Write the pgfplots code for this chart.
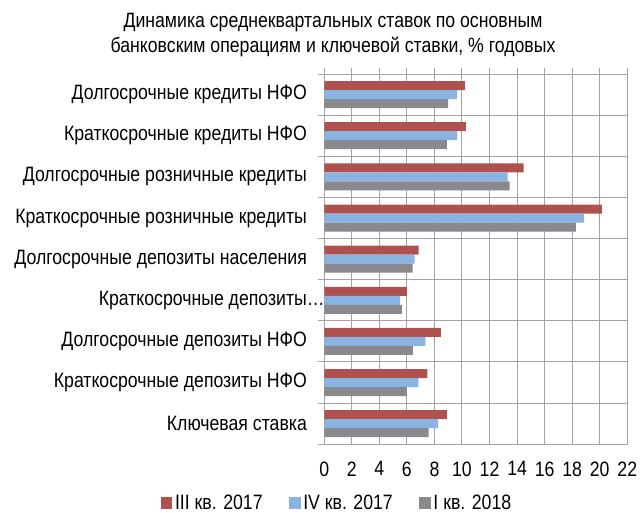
\documentclass[border=0pt]{standalone}
\usepackage{pgfplots}
\pgfplotsset{compat=1.18}
\usepackage{fontspec}
\setmainfont[FakeStretch=0.85]{Liberation Sans}
\definecolor{serA}{RGB}{175,81,79}
\definecolor{serB}{RGB}{137,179,224}
\definecolor{serC}{RGB}{137,137,142}
\definecolor{gridc}{RGB}{163,163,163}

\begin{document}
\begin{tikzpicture}[font=\fontsize{15.6}{18}\selectfont]
\useasboundingbox (0,0) rectangle (480pt,384pt);

\node[align=center, font=\fontsize{15.6}{18.75}\selectfont] at (249.75pt,358.1pt)
  {Динамика среднеквартальных ставок по основным\\банковским операциям и ключевой ставки, \% годовых};

\begin{axis}[
  at={(243.2pt,50.8pt)}, anchor=south west,
  width=227.25pt, height=277.7pt, scale only axis,
  xbar=0pt, bar width=6.75pt,
  xmin=0, xmax=22, xtick={0,2,...,22},
  ymin=-0.5, ymax=8.5, y dir=reverse,
  ytick={-0.5,0.5,...,8.5}, yticklabels={},
  extra y ticks={0,...,8},
  extra y tick labels={
    Долгосрочные кредиты НФО,
    Краткосрочные кредиты НФО,
    Долгосрочные розничные кредиты,
    Краткосрочные розничные кредиты,
    Долгосрочные депозиты населения,
    Краткосрочные депозиты\rlap{…},
    Долгосрочные депозиты НФО,
    Краткосрочные депозиты НФО,
    Ключевая ставка},
  extra y tick style={grid=none, tick style={draw=none}},
  yticklabel style={xshift=-5pt},
  xmajorgrids, ymajorgrids,
  grid style={gridc, line width=0.75pt},
  axis line style={gridc, line width=0.75pt},
  tick style={gridc, line width=0.75pt},
  major tick length=4.5pt,
  tick align=outside,
  xtick pos=right, xticklabel pos=left,
  ytick pos=left,
  xticklabel style={yshift=-5pt},
  /pgf/number format/assume math mode=true,
  legend columns=3,
  legend style={draw=none, at={(0.0436,-0.1585)}, anchor=center,
    /tikz/every even column/.append style={column sep=18pt}},
  legend image code/.code={\fill[#1] (0pt,-4.25pt) rectangle (8.5pt,4.25pt);},
]
\addplot[fill=serA, draw=none, bar shift=6.75pt] coordinates {
  (10.22,0) (10.29,1) (14.48,2) (20.15,3) (6.85,4) (6.00,5) (8.47,6) (7.48,7) (8.91,8)};
\addplot[fill=serB, draw=none, bar shift=0pt] coordinates {
  (9.64,0) (9.64,1) (13.32,2) (18.86,3) (6.56,4) (5.50,5) (7.34,6) (6.83,7) (8.26,8)};
\addplot[fill=serC, draw=none, bar shift=-6.75pt] coordinates {
  (9.00,0) (8.91,1) (13.46,2) (18.26,3) (6.42,4) (5.64,5) (6.44,6) (6.00,7) (7.58,8)};
\legend{III кв. 2017, IV кв. 2017, I кв. 2018}
\end{axis}
\end{tikzpicture}
\end{document}
